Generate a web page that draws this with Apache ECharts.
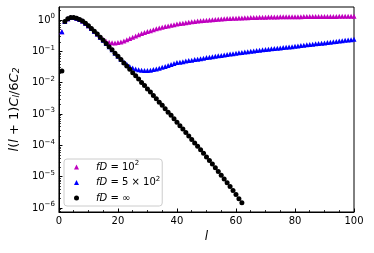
<!DOCTYPE html>
<html><head><meta charset="utf-8">
<script src="https://cdn.jsdelivr.net/npm/echarts@6/dist/echarts.min.js"></script>
<style>html,body{margin:0;padding:0;background:#fff}#c{width:374px;height:253px}</style>
</head><body><div id="c"></div>
<script>
// multipoles l = 1..100
const ellStart = 1;
const seriesNames = ['fD = 10^2', 'fD = 5 x 10^2', 'fD = inf'];
// fD = 1e2 (magenta triangles), l = 1..100
const magentaVals = [0.42,0.891,1.096,1.202,1.202,1.148,1.047,0.933,0.794,0.661,
 0.537,0.437,0.355,0.282,0.238,0.21,0.195,0.187,0.186,0.191,
 0.2,0.214,0.234,0.257,0.282,0.309,0.339,0.372,0.398,0.427,
 0.457,0.49,0.525,0.556,0.589,0.617,0.646,0.676,0.708,0.741,
 0.767,0.794,0.822,0.851,0.875,0.899,0.923,0.944,0.966,0.989,
 1.009,1.028,1.047,1.064,1.081,1.096,1.112,1.125,1.138,1.148,
 1.159,1.169,1.18,1.189,1.197,1.205,1.213,1.222,1.227,1.233,
 1.239,1.245,1.25,1.256,1.259,1.265,1.268,1.271,1.274,1.276,
 1.279,1.282,1.285,1.288,1.288,1.291,1.294,1.294,1.297,1.297,
 1.3,1.3,1.303,1.303,1.306,1.306,1.306,1.309,1.309,1.309];
// fD = 5e2 (blue triangles), l = 1..100
const blueVals = [0.42,0.891,1.096,1.202,1.202,1.148,1.047,0.933,0.794,0.661,
 0.537,0.437,0.355,0.282,0.224,0.178,0.141,0.112,0.0871,0.07,
 0.0565,0.046,0.0385,0.033,0.0295,0.0272,0.0258,0.025,0.0246,0.0245,
 0.0251,0.0263,0.0275,0.0288,0.0309,0.0331,0.0355,0.038,0.0407,0.0437,
 0.0452,0.0468,0.049,0.0507,0.0525,0.0545,0.0565,0.0586,0.0608,0.0631,
 0.0652,0.0673,0.0695,0.0718,0.0741,0.0766,0.0791,0.0817,0.0843,0.0871,
 0.0895,0.092,0.0946,0.0973,0.1,0.1028,0.1057,0.1086,0.1117,0.1148,
 0.1175,0.1202,0.123,0.1259,0.1288,0.1318,0.1349,0.138,0.1413,0.1445,
 0.1486,0.1528,0.157,0.1614,0.166,0.1698,0.1738,0.1778,0.182,0.1862,
 0.1914,0.1968,0.2023,0.208,0.2138,0.2193,0.2249,0.2307,0.2366,0.2421];
// fD = infinity (black circles), l = 1..62
const blackVals = [0.0235,0.891,1.096,1.202,1.202,1.148,1.047,0.933,0.794,0.661,
 0.537,0.437,0.355,0.282,0.224,0.178,0.141,0.112,0.0871,0.0692,
 0.055,0.0427,0.0339,0.0269,0.0209,0.0166,0.0132,0.0102,0.00813,0.00631,
 0.00501,0.00389,0.00309,0.0024,0.00191,0.00148,0.00115,9.12e-4,7.08e-4,5.5e-4,
 4.27e-4,3.31e-4,2.57e-4,2.0e-4,1.55e-4,1.2e-4,9.33e-5,7.24e-5,5.62e-5,4.27e-5,
 3.31e-5,2.57e-5,1.95e-5,1.48e-5,1.12e-5,8.51e-6,6.46e-6,4.9e-6,3.63e-6,2.69e-6,
 2.0e-6,1.48e-6];
const xTicks = [0,20,40,60,80,100];
const yMajorTicks = [1e-6,1e-5,1e-4,1e-3,1e-2,1e-1,1];
const yMinorTicks = [];
[1e-7,1e-6,1e-5,1e-4,1e-3,1e-2,1e-1,1].forEach(d=>{for(let k=2;k<=9;k++)yMinorTicks.push(+(d*k).toPrecision(3));});

const toPairs = vals => vals.map((v,i)=>[ellStart+i, v]);
function sciLabel(v){
  const e = Math.round(Math.log10(v));
  if (Math.abs(Math.log10(v)-e) > 1e-6) return '';
  return '{b|10}{s|' + String(e).replace('-','\u2212') + '}';
}
const FONT = 'DejaVu Sans';
const chart = echarts.init(document.getElementById('c'), null, {renderer:'canvas'});
const legendText = {
  'fD = 10^2': '{g| }{i|fD} = 10{s|2}',
  'fD = 5 x 10^2': '{g| }{i|fD} = 5 \u00d7 10{s|2}',
  'fD = inf': '{g| }{i|fD} = \u221e'
};
chart.setOption({
  animation:false,
  grid:{left:58,right:20,top:7,bottom:41,show:true,borderColor:'#000',borderWidth:1,backgroundColor:'transparent'},
  legend:{
    orient:'vertical', left:64, top:159,
    data:[{name:seriesNames[0],icon:'triangle'},{name:seriesNames[1],icon:'triangle'},{name:seriesNames[2],icon:'circle'}],
    itemWidth:5, itemHeight:5, itemGap:1.5,
    padding:[1,2,1,10],
    backgroundColor:'rgba(255,255,255,0.8)', borderColor:'#cccccc', borderWidth:1, borderRadius:3,
    formatter: n => legendText[n],
    textStyle:{fontFamily:FONT,fontSize:10,color:'#000',lineHeight:14,
      rich:{g:{width:12,fontSize:10},
            i:{fontFamily:FONT,fontStyle:'italic',fontSize:10,color:'#000'},
            s:{fontFamily:FONT,fontSize:7,color:'#000',verticalAlign:'top',lineHeight:8}}}
  },
  xAxis:{
    type:'value', min:0, max:100, interval:20,
    name:'l', nameLocation:'middle', nameGap:19,
    nameTextStyle:{fontFamily:FONT,fontStyle:'italic',fontSize:12,color:'#000'},
    axisLine:{lineStyle:{color:'#000',width:1}},
    axisTick:{inside:true,length:3.5,lineStyle:{color:'#000',width:1}},
    minorTick:{show:true,splitNumber:4,length:2,lineStyle:{color:'#000',width:0.8}},
    axisLabel:{fontFamily:FONT,fontSize:10,color:'#000',margin:4,
      customValues: xTicks},
    splitLine:{show:false}
  },
  yAxis:[{
    type:'log', min:7.5e-7, max:2.6, logBase:10,
    name:'{i|l}({i|l} + 1){i|C}{sub|l}/6{i|C}{sub|2}', nameLocation:'middle', nameGap:27,
    nameTextStyle:{fontFamily:FONT,fontSize:13,color:'#000',
      rich:{i:{fontFamily:FONT,fontStyle:'italic',fontSize:13,color:'#000'},
            sub:{fontFamily:FONT,fontStyle:'italic',fontSize:9,color:'#000',verticalAlign:'bottom',lineHeight:10}}},
    axisLine:{lineStyle:{color:'#000',width:1}},
    axisTick:{inside:true,length:3.5,lineStyle:{color:'#000',width:1},customValues:yMajorTicks},
    axisLabel:{fontFamily:FONT,fontSize:10,color:'#000',margin:4,customValues:yMajorTicks,
      formatter: v => sciLabel(v),
      rich:{b:{fontFamily:FONT,fontSize:10,color:'#000',lineHeight:14},
            s:{fontFamily:FONT,fontSize:7,color:'#000',verticalAlign:'top',lineHeight:9}}},
    splitLine:{show:false}
  },{
    type:'log', min:7.5e-7, max:2.6, logBase:10, position:'left',
    axisLine:{show:false},
    axisTick:{inside:true,length:2,lineStyle:{color:'#000',width:0.8},customValues:yMinorTicks},
    axisLabel:{show:false},
    splitLine:{show:false}
  }],
  series:[
    {name:seriesNames[0],type:'scatter',symbol:'triangle',symbolSize:5,itemStyle:{color:'#bf00bf',opacity:1},data:toPairs(magentaVals)},
    {name:seriesNames[1],type:'scatter',symbol:'triangle',symbolSize:5,itemStyle:{color:'#0000ff',opacity:1},data:toPairs(blueVals)},
    {name:seriesNames[2],type:'scatter',symbol:'circle',symbolSize:5,itemStyle:{color:'#000000',opacity:1},data:toPairs(blackVals)}
  ]
});
</script></body></html>
